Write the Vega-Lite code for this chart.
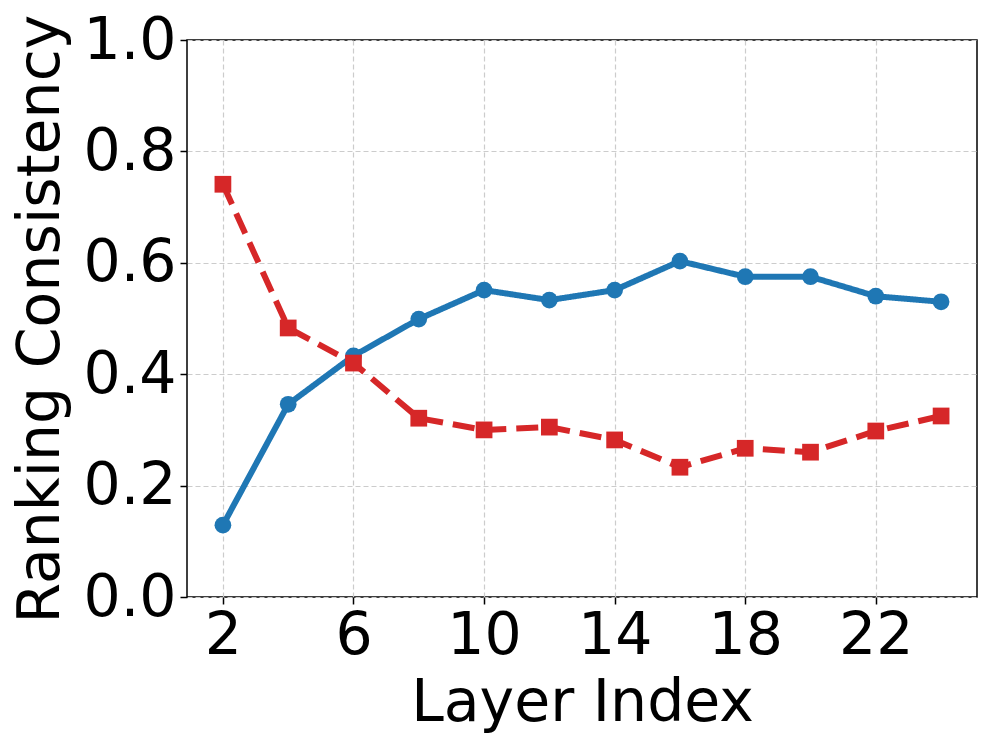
{
  "$schema": "https://vega.github.io/schema/vega-lite/v6.json",
  "width": 790,
  "height": 557,
  "autosize": {"type": "none"},
  "padding": {"left": 187, "top": 40, "right": 19, "bottom": 150},
  "background": "white",
  "config": {
    "view": {"stroke": "black", "strokeWidth": 1.5},
    "axis": {
      "domain": false,
      "labelFont": "DejaVu Sans",
      "titleFont": "DejaVu Sans",
      "labelFontSize": 58.5,
      "titleFontSize": 58.5,
      "labelColor": "black",
      "titleColor": "black",
      "titleFontWeight": "normal",
      "tickColor": "black",
      "tickWidth": 1.5,
      "tickSize": 7,
      "gridColor": "#cccccc",
      "gridDash": [5, 3],
      "gridWidth": 1.2
    }
  },
  "data": {
    "values": [
      {"layer": 2, "value": 0.129, "series": "A"},
      {"layer": 4, "value": 0.346, "series": "A"},
      {"layer": 6, "value": 0.433, "series": "A"},
      {"layer": 8, "value": 0.499, "series": "A"},
      {"layer": 10, "value": 0.551, "series": "A"},
      {"layer": 12, "value": 0.533, "series": "A"},
      {"layer": 14, "value": 0.551, "series": "A"},
      {"layer": 16, "value": 0.603, "series": "A"},
      {"layer": 18, "value": 0.575, "series": "A"},
      {"layer": 20, "value": 0.575, "series": "A"},
      {"layer": 22, "value": 0.540, "series": "A"},
      {"layer": 24, "value": 0.530, "series": "A"},
      {"layer": 2, "value": 0.741, "series": "B"},
      {"layer": 4, "value": 0.483, "series": "B"},
      {"layer": 6, "value": 0.420, "series": "B"},
      {"layer": 8, "value": 0.321, "series": "B"},
      {"layer": 10, "value": 0.300, "series": "B"},
      {"layer": 12, "value": 0.305, "series": "B"},
      {"layer": 14, "value": 0.282, "series": "B"},
      {"layer": 16, "value": 0.233, "series": "B"},
      {"layer": 18, "value": 0.267, "series": "B"},
      {"layer": 20, "value": 0.260, "series": "B"},
      {"layer": 22, "value": 0.298, "series": "B"},
      {"layer": 24, "value": 0.325, "series": "B"}
    ]
  },
  "encoding": {
    "x": {
      "field": "layer",
      "type": "quantitative",
      "scale": {"domain": [0.9, 25.1], "nice": false, "zero": false},
      "axis": {"values": [2, 6, 10, 14, 18, 22], "title": "Layer Index", "labelPadding": 3, "titlePadding": 10}
    },
    "y": {
      "field": "value",
      "type": "quantitative",
      "scale": {"domain": [0, 1], "nice": false},
      "axis": {"values": [0, 0.2, 0.4, 0.6, 0.8, 1.0], "format": ".1f", "title": "Ranking Consistency", "labelPadding": 4, "titlePadding": 12}
    },
    "color": {
      "field": "series",
      "type": "nominal",
      "scale": {"domain": ["A", "B"], "range": ["#1f77b4", "#d62728"]},
      "legend": null
    }
  },
  "layer": [
    {
      "mark": {"type": "line", "strokeWidth": 6},
      "encoding": {
        "strokeDash": {
          "field": "series",
          "type": "nominal",
          "scale": {"domain": ["A", "B"], "range": [[1, 0], [22, 10]]},
          "legend": null
        }
      }
    },
    {
      "mark": {"type": "point", "filled": true, "opacity": 1},
      "encoding": {
        "shape": {
          "field": "series",
          "type": "nominal",
          "scale": {"domain": ["A", "B"], "range": ["circle", "square"]},
          "legend": null
        },
        "size": {"value": 280}
      }
    }
  ]
}
